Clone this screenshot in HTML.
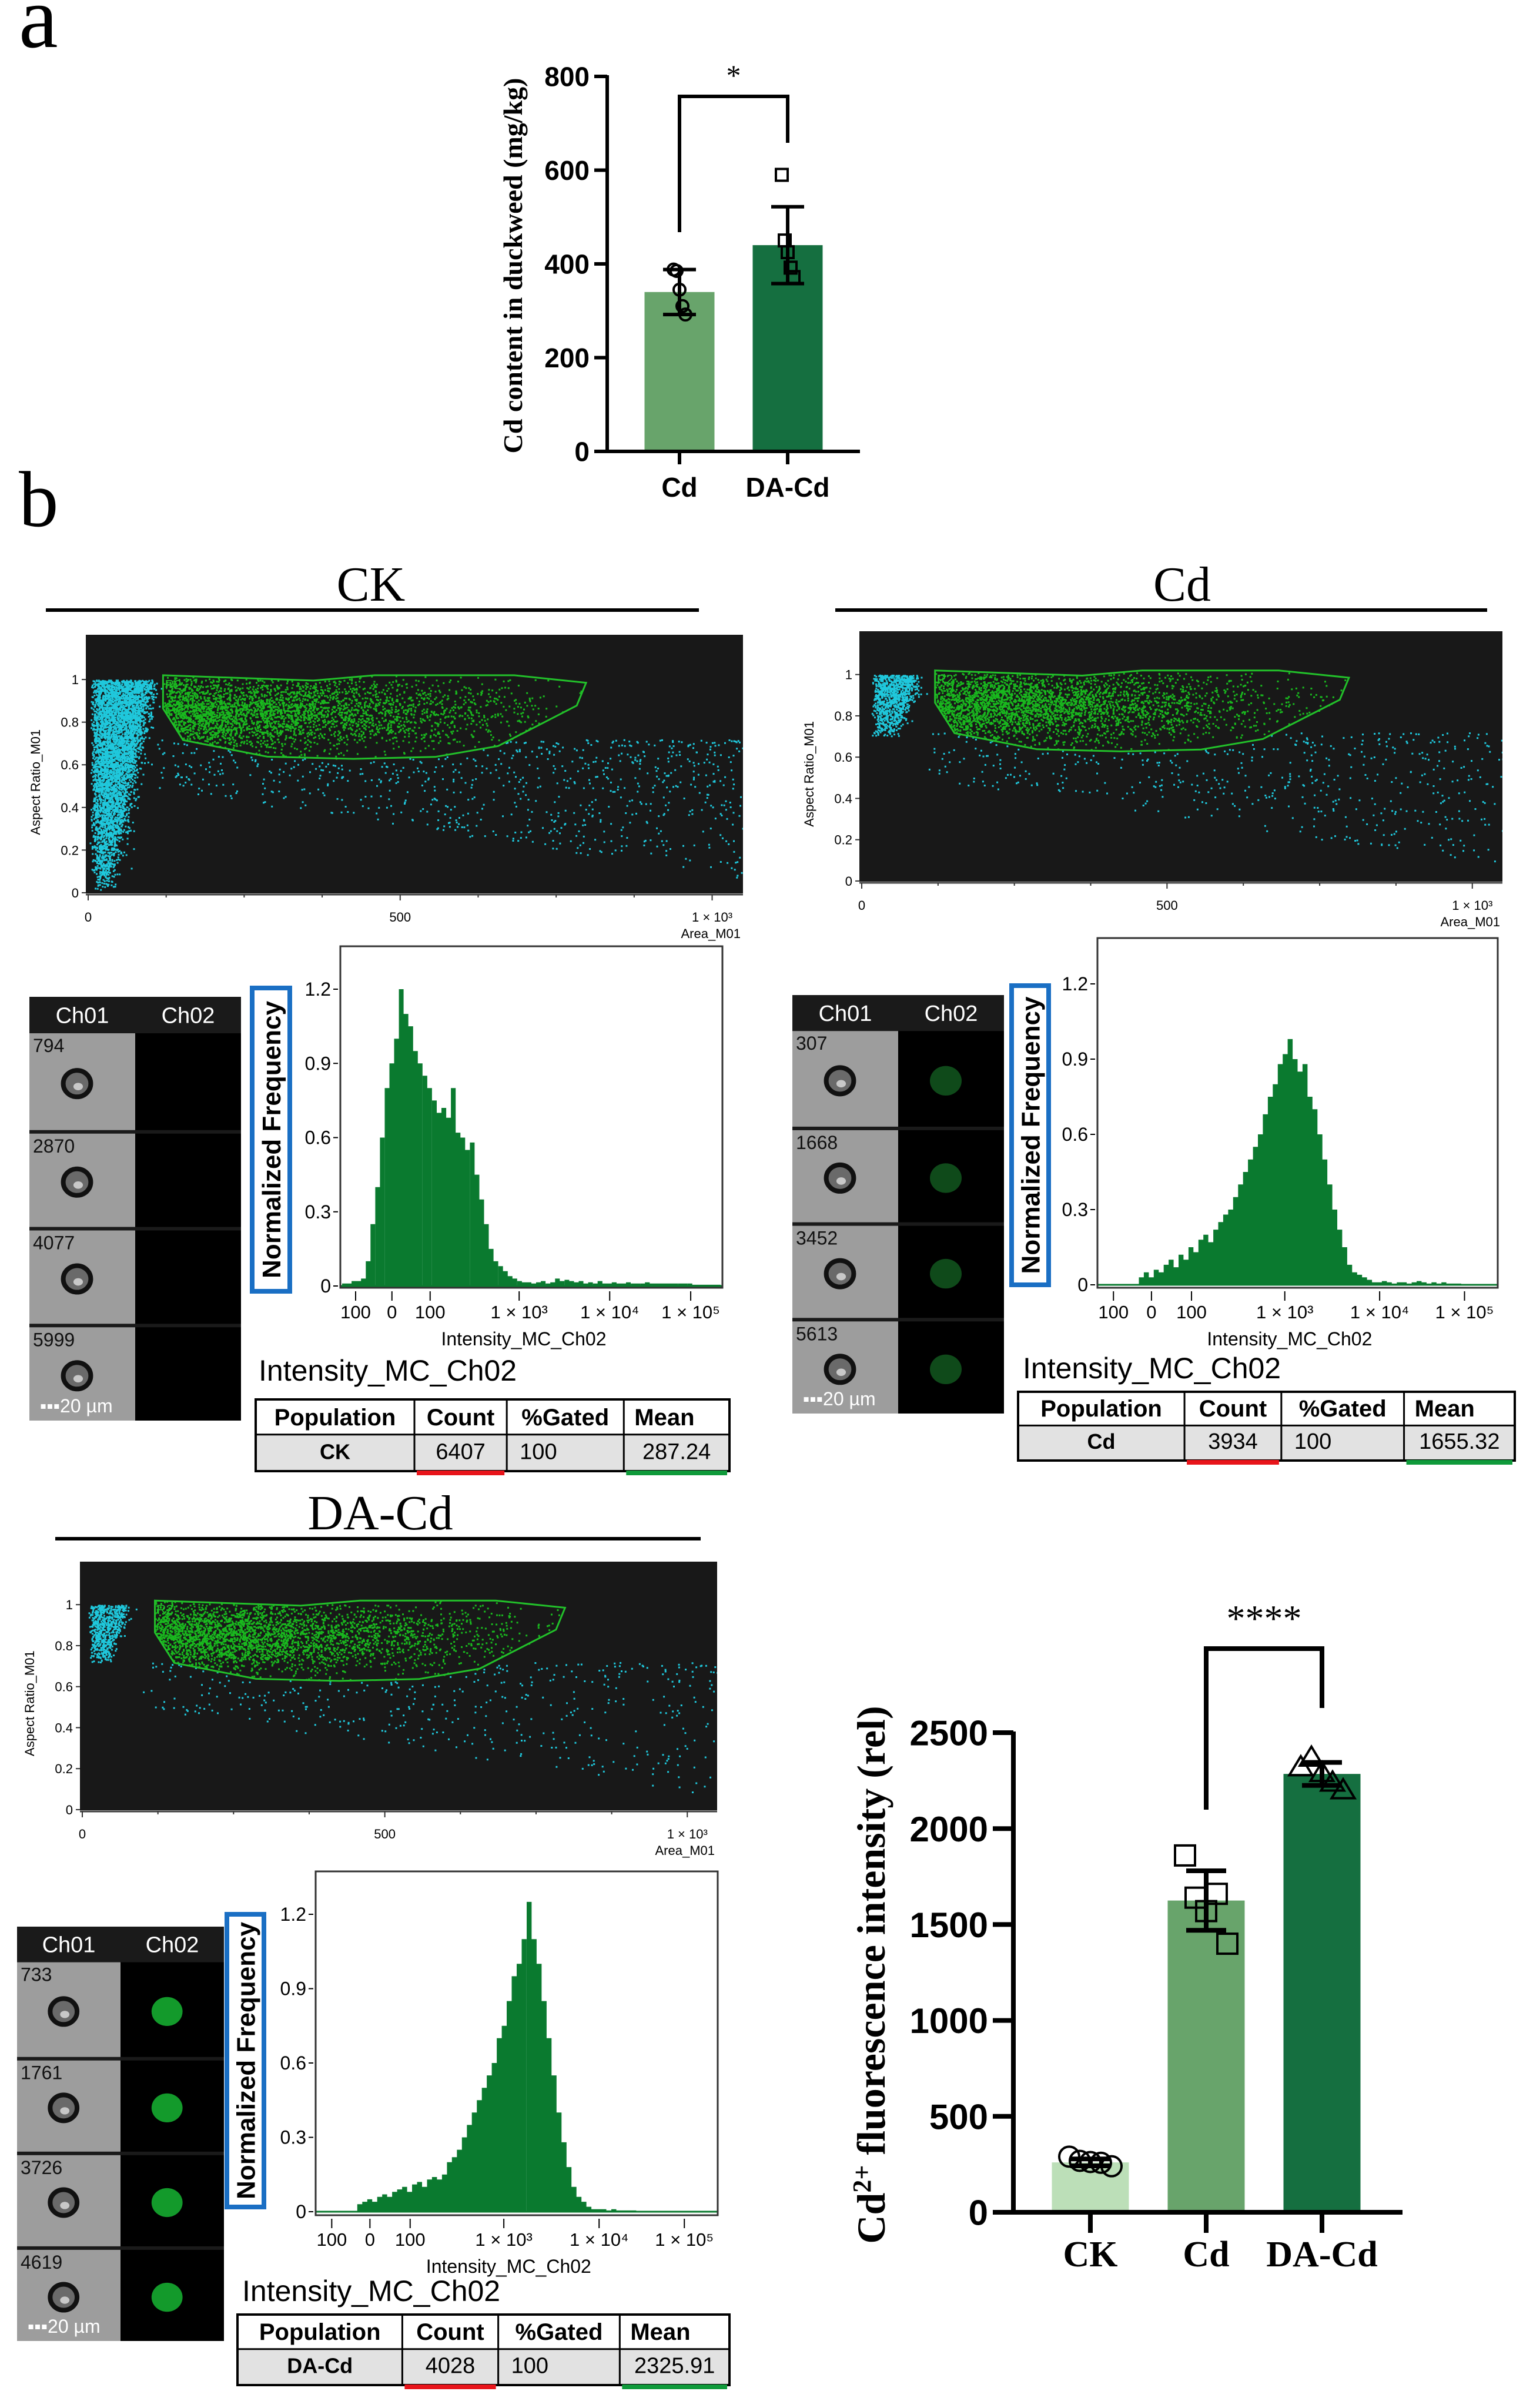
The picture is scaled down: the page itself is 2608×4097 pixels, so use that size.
<!DOCTYPE html>
<html><head><meta charset="utf-8">
<style>
html,body{margin:0;padding:0;background:#fff;}
svg{display:block;}
</style></head>
<body>
<svg id="fig" xmlns="http://www.w3.org/2000/svg" width="2608" height="4097" viewBox="0 0 2608 4097">
<rect x="0" y="0" width="2608" height="4097" fill="#fff"/>
</svg>
<script>
// ---------- Panel a data ----------
const aCategories = ["Cd", "DA-Cd"];
const aMeans = [340, 440];
const aSD = [48, 82];
const aPointsCd = [388, 385, 345, 310, 292];
const aPointsDA = [590, 450, 425, 392, 372];
const aTicks = [0, 200, 400, 600, 800];

// ---------- Panel c data ----------
const cCategories = ["CK", "Cd", "DA-Cd"];
const cMeans = [260, 1625, 2285];
const cSD = [18, 155, 60];
const cPointsCK = [290, 268, 262, 258, 240];
const cPointsCd = [1860, 1640, 1570, 1660, 1400];
const cPointsDA = [2320, 2370, 2290, 2240, 2200];
const cTicks = [0, 500, 1000, 1500, 2000, 2500];

// ---------- Histogram data (normalized frequency per bin, 80 bins) ----------
const ckHist = [0.01,0.01,0.02,0.02,0.03,0.1,0.25,0.4,0.6,0.8,0.9,1.0,1.2,1.1,1.05,0.95,0.9,0.85,0.8,0.75,0.7,0.72,0.68,0.8,0.62,0.6,0.55,0.58,0.45,0.35,0.25,0.15,0.1,0.08,0.06,0.04,0.03,0.02,0.015,0.015,0.01,0.015,0.02,0.01,0.015,0.03,0.02,0.025,0.02,0.015,0.02,0.01,0.015,0.01,0.02,0.01,0.01,0.015,0.01,0.01,0.015,0.01,0.01,0.01,0.015,0.01,0.01,0.01,0.01,0.01,0.01,0.01,0.01,0.01,0.005,0.005,0.005,0.005,0.005,0.005];
const cdHist = [0,0,0,0,0,0,0,0,0.03,0.05,0.03,0.06,0.05,0.08,0.1,0.07,0.12,0.1,0.15,0.13,0.18,0.2,0.17,0.22,0.25,0.28,0.3,0.35,0.4,0.45,0.5,0.55,0.6,0.68,0.75,0.8,0.88,0.92,0.98,0.9,0.85,0.88,0.75,0.7,0.6,0.5,0.4,0.3,0.22,0.15,0.08,0.05,0.04,0.03,0.02,0.01,0.01,0.015,0.01,0.005,0.01,0.01,0.005,0.01,0.015,0.01,0.005,0.01,0.005,0.01,0.005,0.005,0.005,0,0,0,0,0,0,0];
const daHist = [0,0,0,0,0,0,0,0,0.03,0.04,0.05,0.04,0.06,0.07,0.06,0.08,0.09,0.1,0.08,0.11,0.12,0.1,0.13,0.14,0.13,0.15,0.2,0.22,0.25,0.3,0.35,0.4,0.45,0.5,0.55,0.6,0.7,0.75,0.85,0.95,1.0,1.1,1.25,1.1,1.0,0.85,0.7,0.55,0.4,0.28,0.18,0.1,0.06,0.04,0.02,0.01,0.01,0.01,0.005,0.01,0.005,0.005,0.005,0.005,0,0,0,0,0,0,0,0,0,0,0,0,0,0,0,0];
const histTickLabels = ["100","0","100","1 × 10³","1 × 10⁴","1 × 10⁵"];
const histYTicks = [0, 0.3, 0.6, 0.9, 1.2];
const scatterYTicks = [0, 0.2, 0.4, 0.6, 0.8, 1];
const scatterXTicks = [0, 500, 1000];
const scatterXLabels = ["0","500","1 × 10³"];

const NS = "http://www.w3.org/2000/svg";
const svg = document.getElementById("fig");
function mk(tag, attrs, parent){
  const e = document.createElementNS(NS, tag);
  for (const k in attrs) e.setAttribute(k, attrs[k]);
  (parent || svg).appendChild(e);
  return e;
}
function txt(parent, x, y, s, size, fam, opts){
  opts = opts || {};
  const e = mk("text", {x:x, y:y, "font-size":size, "font-family":fam, fill:opts.fill||"#000", "text-anchor":opts.anchor||"start", "font-weight":opts.weight||"normal"}, parent);
  if (opts.transform) e.setAttribute("transform", opts.transform);
  e.textContent = s;
  return e;
}
const SANS = "'Liberation Sans', Arial, sans-serif";
const NARROW = "'Liberation Sans Narrow', 'Liberation Sans', sans-serif";
const SERIF = "'Liberation Serif', 'Times New Roman', serif";

// ---------- panel letters ----------
let t;
t = txt(svg, 32, 80, "a", 150, SERIF, {});


t = txt(svg, 32, 895, "b", 135, SERIF, {});



// ---------- generic bar chart ----------
function barChart(cfg){
  const g = mk("g", {}, svg);
  
  
  const yS = v => cfg.y0 - v * (cfg.y0 - cfg.yTop) / cfg.vmax;
  cfg.means.forEach((m, i) => {
    const cx = cfg.centers[i];
    const b = mk("rect", {x:cx - cfg.bw/2, y:yS(m), width:cfg.bw, height:cfg.y0 - yS(m), fill:cfg.colors[i]}, g);
    
    
  });
  cfg.points.forEach((arr, i) => {
    const cx = cfg.centers[i];
    arr.forEach((v, j) => {
      const off = (j - (arr.length-1)/2) * cfg.jit;
      const px = cx + off, py = yS(v);
      let p;
      const s = cfg.ms;
      if (cfg.shapes[i] === "circle") p = mk("circle", {cx:px, cy:py, r:s, fill:"none", stroke:"#000", "stroke-width":cfg.msw}, g);
      else if (cfg.shapes[i] === "square") p = mk("rect", {x:px-s, y:py-s, width:2*s, height:2*s, fill:"none", stroke:"#000", "stroke-width":cfg.msw}, g);
      else p = mk("polygon", {points:`${px},${py-s*1.1} ${px-s*1.15},${py+s*0.8} ${px+s*1.15},${py+s*0.8}`, fill:"none", stroke:"#000", "stroke-width":cfg.msw}, g);
      
      
    });
  });
  cfg.means.forEach((m, i) => {
    const cx = cfg.centers[i];
    const e = mk("path", {d:`M${cx},${yS(m-cfg.sd[i])}V${yS(m+cfg.sd[i])}M${cx-cfg.cap},${yS(m+cfg.sd[i])}H${cx+cfg.cap}M${cx-cfg.cap},${yS(m-cfg.sd[i])}H${cx+cfg.cap}`, stroke:"#000", "stroke-width":cfg.lw, fill:"none"}, g);
    
    
  });
  const ax = mk("path", {d:`M${cfg.axX},${cfg.yTop - 2}V${cfg.y0}M${cfg.xStart},${cfg.y0}H${cfg.xEnd}`, stroke:"#000", "stroke-width":cfg.lw, fill:"none"}, g);
  
  
  cfg.ticks.forEach(v => {
    const tk = mk("line", {x1:cfg.axX - cfg.tl, x2:cfg.axX, y1:yS(v), y2:yS(v), stroke:"#000", "stroke-width":cfg.lw}, g);
    
    
    const tl = txt(g, cfg.axX - cfg.tl - 8, yS(v) + cfg.tfs*0.36, String(v), cfg.tfs, cfg.tfam, {anchor:"end", weight:"bold"});
    
    
  });
  cfg.cats.forEach((c, i) => {
    const cx = cfg.centers[i];
    const tk = mk("line", {x1:cx, x2:cx, y1:cfg.y0, y2:cfg.y0 + cfg.tl, stroke:"#000", "stroke-width":cfg.lw}, g);
    
    
    const tl = txt(g, cx, cfg.labY, c, cfg.cfs, cfg.cfam, {anchor:"middle", weight:"bold"});
    
    
  });
  const br = cfg.bracket;
  const bp = mk("path", {d:`M${cfg.centers[br.i]},${br.yl}V${br.top}H${cfg.centers[br.j]}V${br.yr}`, stroke:"#000", "stroke-width":cfg.lw, fill:"none"}, g);
  
  
  const st = txt(g, (cfg.centers[br.i]+cfg.centers[br.j])/2, br.starY, br.stars, br.sfs, SERIF, {anchor:"middle"});
  
  
  const yt = mk("text", {x:0, y:0, "font-size":cfg.yfs, "font-family":SERIF, "font-weight":"bold", "text-anchor":"middle", transform:`translate(${cfg.ytX},${cfg.ytY}) rotate(-90)`}, g);
  
  
  yt.innerHTML = cfg.ytitle;
}

barChart({name:"cd-content-chart", cats:aCategories, means:aMeans, sd:aSD, points:[aPointsCd, aPointsDA],
  shapes:["circle","square"], colors:["#68a46b","#156f40"], centers:[1156,1340], bw:119,
  y0:768, yTop:130, vmax:800, axX:1033, xStart:1011, xEnd:1463, lw:6, tl:22, ticks:aTicks,
  tfs:46, tfam:NARROW, cfs:46, cfam:NARROW, labY:845, ms:10, msw:4, jit:5, cap:28,
  bracket:{i:0,j:1,top:164,yl:395,yr:243,stars:"*",starY:145,sfs:50},
  ytitle:"Cd content in duckweed (mg/kg)", yfs:46, ytX:888, ytY:452});

barChart({name:"fluorescence-chart", cats:cCategories, means:cMeans, sd:cSD, points:[cPointsCK, cPointsCd, cPointsDA],
  shapes:["circle","square","triangle"], colors:["#bcdfb8","#68a46b","#156f40"], centers:[1855,2052,2249], bw:131,
  y0:3764, yTop:2948, vmax:2500, axX:1724, xStart:1689, xEnd:2386, lw:8, tl:35, ticks:cTicks,
  tfs:60, tfam:SANS, cfs:62, cfam:SERIF, labY:3856, ms:17, msw:4, jit:18, cap:34,
  bracket:{i:1,j:2,top:2805,yl:3079,yr:2906,stars:"****",starY:2775,sfs:64},
  ytitle:'Cd<tspan baseline-shift="super" font-size="44">2+</tspan> fluorescence intensity (rel)', yfs:68, ytX:1505, ytY:3360});

function rng(seed){ return function(){ seed |= 0; seed = seed + 0x6D2B79F5 | 0; let t = Math.imul(seed ^ seed >>> 15, 1 | seed); t = t + Math.imul(t ^ t >>> 7, 61 | t) ^ t; return ((t ^ t >>> 14) >>> 0) / 4294967296; }; }
function gauss(r){ return Math.sqrt(-2*Math.log(r()+1e-9))*Math.cos(2*Math.PI*r()); }
const gate = [[120,1.02],[361,0.995],[459,1.02],[683,1.02],[798,0.985],[783,0.878],[657,0.688],[556,0.637],[425,0.628],[287,0.638],[152,0.716],[120,0.864]];
function inPoly(x, y, poly){
  let ins = false;
  for (let i=0, j=poly.length-1; i<poly.length; j=i++){
    const xi=poly[i][0], yi=poly[i][1], xj=poly[j][0], yj=poly[j][1];
    if (((yi>y)!==(yj>y)) && (x < (xj-xi)*(y-yi)/(yj-yi)+xi)) ins = !ins;
  }
  return ins;
}

function flowPanel(c){
  const g = mk("g", {}, svg);
  
  
  const tt = txt(g, c.title.cx, c.title.y, c.label, 84, SERIF, {anchor:"middle"});
  
  
  const tl = mk("line", {x1:c.title.x1, x2:c.title.x2, y1:c.title.ly, y2:c.title.ly, stroke:"#000", "stroke-width":6}, g);
  
  

  const s = c.sc;
  const sg = mk("g", {}, g);
  
  
  const bg = mk("rect", {x:s.x, y:s.y, width:s.w, height:s.h, fill:"#181818"}, sg);
  
  
  const yb = s.y + s.h*0.9975, y1 = s.y + s.h*0.173;
  const sx = v => s.x + 4 + v/1000*(s.w*0.9495);
  const sy = v => yb - v*(yb - y1);
  const clip = mk("clipPath", {id:"clip-"+c.key}, sg);
  mk("rect", {x:s.x, y:s.y, width:s.w, height:s.h}, clip);
  const dots = mk("g", {"clip-path":`url(#clip-${c.key})`}, sg);
  
  
  const r = rng(c.seed);
  let pathC = "", pathG = "";
  const add = (isG, x, y) => { const px = sx(x), py = sy(y); if (py < s.y+2 || py > s.y+s.h) return; const d = `M${px.toFixed(1)},${py.toFixed(1)}h3v3h-3z`; if (isG) pathG += d; else pathC += d; };
  for (let i=0; i<c.cloud.n; i++){
    const y = c.cloud.ymin + (1 - c.cloud.ymin) * Math.pow(r(), c.cloud.pow);
    const yy = Math.min(1, y);
    const xmax = c.cloud.x0 + c.cloud.xs * (yy - c.cloud.ymin)/(1-c.cloud.ymin + 1e-9) + 10;
    const x = c.cloud.xl + r() * xmax + Math.abs(gauss(r))*c.cloud.spread;
    add(false, x, yy);
  }
  let n = 0, guard = 0;
  while (n < c.greenN && guard < 40000){
    guard++;
    const x = 120 + Math.abs(gauss(r)) * 260;
    const y = 0.85 + gauss(r) * 0.09;
    if (inPoly(x, y, gate)){ add(true, x, y); n++; }
  }
  for (let i=0; i<c.scatN; i++){
    const x = 100 + Math.pow(r(), 0.8)*960;
    const y = 0.72 - Math.pow(r(), 1.4)*0.45*(0.4 + x/1000);
    if (!inPoly(x, y, gate)) add(false, x, y);
  }
  const pc = mk("path", {d:pathC, fill:"#1fc8dc"}, dots);
  
  
  const pg = mk("path", {d:pathG, fill:"#19b81e"}, dots);
  
  
  const gp = mk("polygon", {points:gate.map(p => `${sx(p[0]).toFixed(1)},${sy(p[1]).toFixed(1)}`).join(" "), fill:"none", stroke:"#22c02a", "stroke-width":3}, sg);
  
  
  const gl = txt(sg, sx(123), sy(0.955), "R2", 22, SANS, {fill:"#22c02a"});
  
  
  const xa = mk("line", {x1:s.x, x2:s.x+s.w, y1:s.y+s.h+2, y2:s.y+s.h+2, stroke:"#444", "stroke-width":3}, sg);
  
  
  scatterYTicks.forEach(v => {
    const tk = mk("line", {x1:s.x-7, x2:s.x, y1:sy(v), y2:sy(v), stroke:"#333", "stroke-width":2}, sg);
    
    
    const l = txt(sg, s.x-12, sy(v)+8, String(v), 22, SANS, {anchor:"end"});
    
    
  });
  for (let v=0; v<=1050; v+=125){
    const tk = mk("line", {x1:sx(v), x2:sx(v), y1:s.y+s.h+2, y2:s.y+s.h+(v%500===0?12:7), stroke:"#333", "stroke-width":2}, sg);
    
    
  }
  scatterXTicks.forEach((v, i) => {
    const l = txt(sg, sx(v), s.y+s.h+48, scatterXLabels[i], 22, SANS, {anchor:"middle"});
    
    
  });
  const xt = txt(sg, s.x+s.w-4, s.y+s.h+76, "Area_M01", 22, SANS, {anchor:"end"});
  
  
  const ytt = txt(sg, 0, 0, "Aspect Ratio_M01", 22, SANS, {anchor:"middle", transform:`translate(${s.x-78},${s.y+s.h*0.57}) rotate(-90)`});
  
  

  // gallery
  const ga = c.gal;
  const gg = mk("g", {}, g);
  
  
  const gbg = mk("rect", {x:ga.x, y:ga.y, width:ga.w, height:ga.h, fill:"#1a1a1a"}, gg);
  
  
  const hh = ga.h * 0.086, cw = ga.w/2;
  ["Ch01","Ch02"].forEach((h, i) => {
    const l = txt(gg, ga.x + cw*i + cw/2, ga.y + hh*0.72, h, 38, SANS, {anchor:"middle", fill:"#fff"});
    
    
  });
  const rh = (ga.h - hh) / 4;
  ga.nums.forEach((num, i) => {
    const ry = ga.y + hh + rh*i + (i>0 ? 6 : 0), rhh = rh - (i>0 ? 6 : 0);
    const c1 = mk("rect", {x:ga.x, y:ry, width:cw, height:rhh, fill:"#9d9d9d"}, gg);
    
    
    const c2 = mk("rect", {x:ga.x+cw, y:ry, width:cw, height:rhh, fill:"#000"}, gg);
    
    
    const ccx = ga.x + cw*0.45, ccy = ry + rhh*0.52;
    const cell = mk("ellipse", {cx:ccx, cy:ccy, rx:cw*0.13, ry:cw*0.125, fill:"#6a6a6a", stroke:"#111", "stroke-width":8}, gg);
    
    
    const hi = mk("ellipse", {cx:ccx+2, cy:ccy+5, rx:cw*0.045, ry:cw*0.035, fill:"#c8c8c8"}, gg);
    
    
    if (ga.ch2 > 0){
      const fl = mk("ellipse", {cx:ga.x+cw*1.45, cy:ccy, rx:cw*0.15, ry:cw*0.14, fill: ga.ch2===1 ? "#0f4a1a" : "#139a2b"}, gg);
      
      
    }
    const nl = txt(gg, ga.x+6, ry+32, String(num), 32, SANS, {fill:"#111"});
    
    
  });
  const sb = txt(gg, ga.x+18, ga.y+ga.h-14, "▪▪▪20 µm", 32, SANS, {fill:"#fff"});
  
  

  // histogram
  const h = c.hist;
  const hg = mk("g", {}, g);
  
  
  const hy = v => h.y0 - v * (h.y0 - h.y12)/1.2;
  const bw = (h.w - 6) / c.data.length;
  let hp = "";
  c.data.forEach((v, i) => {
    if (v <= 0) return;
    const x = h.x + 3 + i*bw;
    hp += `M${x.toFixed(1)},${h.y0}V${hy(v).toFixed(1)}H${(x+bw).toFixed(1)}V${h.y0}Z`;
  });
  const bars = mk("path", {d:hp, fill:"#0a7a2f"}, hg);
  
  
  const base = mk("line", {x1:h.x, x2:h.x+h.w, y1:h.y0, y2:h.y0, stroke:"#0a7a2f", "stroke-width":3}, hg);
  
  
  const fr = mk("rect", {x:h.x, y:h.y, width:h.w, height:h.h, fill:"none", stroke:"#333", "stroke-width":3}, hg);
  
  
  histYTicks.forEach(v => {
    const tk = mk("line", {x1:h.x-12, x2:h.x-4, y1:hy(v), y2:hy(v), stroke:"#000", "stroke-width":2}, hg);
    
    
    const l = txt(hg, h.x-16, hy(v)+11, String(v), 32, SANS, {anchor:"end"});
    
    
  });
  const tf = [0.04,0.135,0.235,0.468,0.705,0.917];
  histTickLabels.forEach((lab, i) => {
    const x = h.x + tf[i]*h.w;
    const tk = mk("line", {x1:x, x2:x, y1:h.y+h.h+6, y2:h.y+h.h+22, stroke:"#000", "stroke-width":2}, hg);
    
    
    const l = txt(hg, x, h.y+h.h+52, lab, 31, SANS, {anchor:"middle"});
    
    
  });
  const hx = txt(hg, h.x + h.w*0.48, h.y+h.h+98, "Intensity_MC_Ch02", 32, SANS, {anchor:"middle"});
  
  
  const bb = mk("rect", {x:c.blue.x, y:c.blue.y, width:c.blue.w, height:c.blue.h, fill:"none", stroke:"#1a6fc4", "stroke-width":8}, hg);
  
  
  const yl = txt(hg, 0, 0, "Normalized Frequency", 44, SANS, {anchor:"middle", weight:"bold", transform:`translate(${c.blue.x+c.blue.w/2+16},${c.blue.y+c.blue.h/2}) rotate(-90)`});
  
  
  const big = txt(g, c.big.x, c.big.y, "Intensity_MC_Ch02", 50, SANS, {});
  
  

  // table
  const tb = c.table;
  const tg = mk("g", {}, g);
  
  
  const rsplit = tb.y + tb.h*0.49;
  const r2 = mk("rect", {x:tb.x, y:rsplit, width:tb.w, height:tb.y+tb.h-rsplit, fill:"#e2e2e2"}, tg);
  
  
  const cols = [0, 0.335, 0.53, 0.777, 1].map(f => tb.x + f*tb.w);
  const frame = mk("rect", {x:tb.x, y:tb.y, width:tb.w, height:tb.h, fill:"none", stroke:"#000", "stroke-width":4}, tg);
  
  
  let gp2 = `M${tb.x},${rsplit}H${tb.x+tb.w}`;
  for (let i=1; i<4; i++) gp2 += `M${cols[i]},${tb.y}V${tb.y+tb.h}`;
  const grid = mk("path", {d:gp2, stroke:"#000", "stroke-width":3}, tg);
  
  
  const heads = ["Population","Count","%Gated","Mean"];
  const vals = [c.label, tb.count, "100", tb.mean];
  const hAnch = ["middle","middle","middle","start"];
  heads.forEach((hd, i) => {
    const x = hAnch[i]==="middle" ? (cols[i]+cols[i+1])/2 : cols[i]+18;
    const l = txt(tg, x, tb.y + tb.h*0.36, hd, 40, SANS, {anchor:hAnch[i], weight:"bold"});
    
    
  });
  vals.forEach((v, i) => {
    const x = i===0 ? (cols[0]+cols[1])/2 : i===2 ? cols[2]+22 : (cols[i]+cols[i+1])/2;
    const l = txt(tg, x, tb.y + tb.h*0.83, v, i===0 ? 36 : 38, SANS, {anchor: i===2 ? "start" : "middle", weight: i===0 ? "bold" : "normal"});
    
    
  });
  const ru = mk("line", {x1:cols[1]+4, x2:cols[2]-4, y1:tb.y+tb.h+3, y2:tb.y+tb.h+3, stroke:"#e8141a", "stroke-width":8}, tg);
  
  
  const gu = mk("line", {x1:cols[3]+4, x2:cols[4]-4, y1:tb.y+tb.h+3, y2:tb.y+tb.h+3, stroke:"#0f9a3a", "stroke-width":8}, tg);
  
  
}

flowPanel({key:"ck", label:"CK", seed:11, data:ckHist,
  title:{cx:631, y:1022, x1:78, x2:1189, ly:1038},
  sc:{x:146, y:1080, w:1118, h:440},
  cloud:{n:4500, ymin:0.0, pow:0.55, x0:10, xs:70, xl:2, spread:12}, greenN:3200, scatN:900,
  gal:{x:50, y:1696, w:360, h:721, nums:[794,2870,4077,5999], ch2:0},
  hist:{x:579, y:1610, w:650, h:581, y0:2188, y12:1683},
  blue:{x:429, y:1681, w:64, h:516}, big:{x:440, y:2349},
  table:{x:435, y:2381, w:806, h:122, count:"6407", mean:"287.24"}});

flowPanel({key:"cd", label:"Cd", seed:22, data:cdHist,
  title:{cx:2011, y:1022, x1:1421, x2:2530, ly:1038},
  sc:{x:1462, y:1074, w:1094, h:426},
  cloud:{n:900, ymin:0.7, pow:0.6, x0:20, xs:40, xl:15, spread:10}, greenN:3000, scatN:600,
  gal:{x:1348, y:1693, w:360, h:712, nums:[307,1668,3452,5613], ch2:1},
  hist:{x:1867, y:1596, w:681, h:595, y0:2186, y12:1674},
  blue:{x:1721, y:1677, w:63, h:509}, big:{x:1740, y:2345},
  table:{x:1732, y:2368, w:845, h:117, count:"3934", mean:"1655.32"}});

flowPanel({key:"da-cd", label:"DA-Cd", seed:33, data:daHist,
  title:{cx:647, y:2602, x1:94, x2:1192, ly:2618},
  sc:{x:136, y:2657, w:1084, h:423},
  cloud:{n:600, ymin:0.72, pow:0.7, x0:15, xs:35, xl:10, spread:8}, greenN:3000, scatN:500,
  gal:{x:29, y:3278, w:352, h:705, nums:[733,1761,3726,4619], ch2:2},
  hist:{x:537, y:3184, w:684, h:585, y0:3763, y12:3257},
  blue:{x:386, y:3257, w:63, h:498}, big:{x:412, y:3915},
  table:{x:404, y:3938, w:837, h:120, count:"4028", mean:"2325.91"}});
</script>
</body></html>
